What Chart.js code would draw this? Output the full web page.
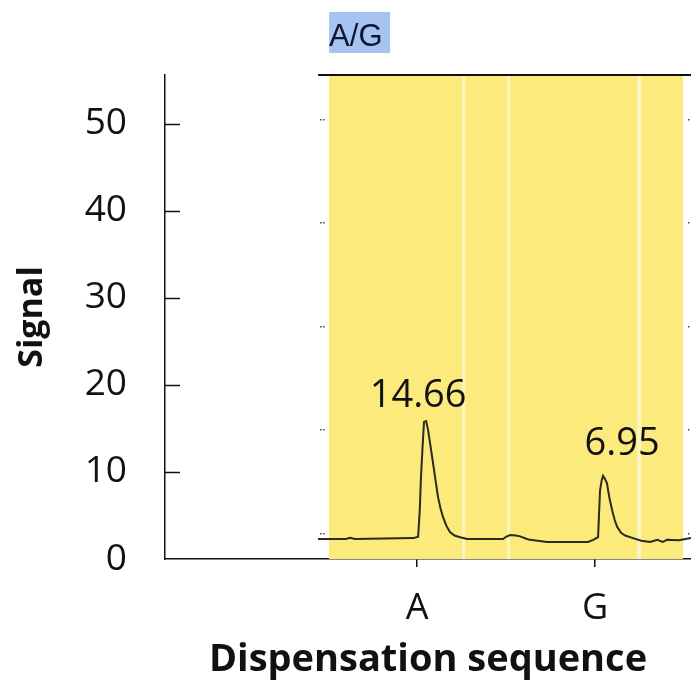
<!DOCTYPE html>
<html>
<head>
<meta charset="utf-8">
<script src="https://cdn.jsdelivr.net/npm/chart.js@4/dist/chart.umd.min.js"></script>
<style>
  html, body { margin: 0; padding: 0; background: #fff; }
  #wrap { width: 691px; height: 683px; }
</style>
</head>
<body>
<div id="wrap"><canvas id="chart" width="691" height="683"></canvas></div>
<script>
// dispensation order and where each nucleotide sits on the x scale
const dispensation = ['A', 'G'];
const dispensationPos = [1, 2];
const yTicks = [0, 10, 20, 30, 40, 50];

// pyrogram trace
const traceX = [0.444, 0.60, 0.624, 0.65, 0.98, 1.006, 1.015, 1.022, 1.030, 1.039, 1.051, 1.062, 1.076, 1.090,
  1.104, 1.118, 1.132, 1.146, 1.165, 1.185, 1.21, 1.242, 1.281, 1.483, 1.50, 1.522, 1.555, 1.579, 1.610, 1.635,
  1.730, 1.96, 1.99, 2.017, 2.023, 2.028, 2.037, 2.045, 2.056, 2.067, 2.080, 2.096, 2.110, 2.124, 2.146, 2.169,
  2.213, 2.26, 2.309, 2.35, 2.38, 2.404, 2.47, 2.539];
const traceY = [2.3, 2.3, 2.45, 2.3, 2.4, 2.55, 5.5, 9.4, 12.5, 15.75, 15.85, 14.8, 12.9, 11.0,
  9.0, 7.1, 5.8, 4.8, 3.8, 3.1, 2.7, 2.5, 2.3, 2.3, 2.55, 2.75, 2.7, 2.6, 2.35, 2.2,
  1.95, 1.95, 2.2, 2.5, 5.5, 7.9, 9.0, 9.55, 9.2, 8.7, 7.1, 5.6, 4.5, 3.7, 3.0, 2.7,
  2.4, 2.1, 1.95, 2.2, 1.95, 2.2, 2.15, 2.4];

// peak values shown above the two peaks
const peakLabels = ['14.66', '6.95'];
const peakIndex = [10, 37];

// yellow regions of the pyrogram and its own little scale marks
const bandStart = [0.506, 1.270, 1.522, 2.258];
const bandEnd = [1.253, 1.506, 2.236, 2.494];
const innerTicks = [3, 14.9, 26.8, 38.7, 50.6];
const snpLabel = 'A/G';

const FONT = "'Open Sans', 'DejaVu Sans', sans-serif";

const pyroPlugin = {
  id: 'pyro',
  beforeDatasetsDraw(chart) {
    const { ctx, chartArea, scales: { x, y } } = chart;
    const top = chartArea.top + 1;
    const h = chartArea.bottom - top;
    ctx.save();
    // pale strip under everything, so the gaps between bands look washed out
    const a0 = x.getPixelForValue(bandStart[0]);
    const a1 = x.getPixelForValue(bandEnd[bandEnd.length - 1]);
    ctx.fillStyle = '#fdf4c2';
    ctx.fillRect(a0, top, a1 - a0, h);
    // yellow bands
    ctx.fillStyle = '#fcea7c';
    for (let i = 0; i < bandStart.length; i++) {
      const x0 = x.getPixelForValue(bandStart[i]);
      const x1 = x.getPixelForValue(bandEnd[i]);
      ctx.fillRect(x0, top, x1 - x0, h);
    }
    // top frame line of the pyrogram
    ctx.strokeStyle = '#111';
    ctx.lineWidth = 2;
    ctx.beginPath();
    ctx.moveTo(x.getPixelForValue(traceX[0]), chartArea.top);
    ctx.lineTo(chartArea.right, chartArea.top);
    ctx.stroke();
    // dotted marks of the inner scale, left and right
    ctx.fillStyle = '#444';
    const xl = x.getPixelForValue(traceX[0]) + 2;
    const xr = chartArea.right - 3;
    innerTicks.forEach(v => {
      const py = Math.round(y.getPixelForValue(v));
      ctx.fillRect(xl, py, 1.5, 1.5);
      ctx.fillRect(xl + 3, py, 1.5, 1.5);
      ctx.fillRect(xr, py, 1.5, 1.5);
    });
    // inside tick marks of the main y axis
    ctx.strokeStyle = '#111';
    ctx.lineWidth = 1.5;
    yTicks.forEach(v => {
      if (v === 0) return;
      const py = Math.round(y.getPixelForValue(v)) + 0.5;
      ctx.beginPath();
      ctx.moveTo(chartArea.left, py);
      ctx.lineTo(chartArea.left + 15, py);
      ctx.stroke();
    });
    ctx.restore();
  },
  afterDatasetsDraw(chart) {
    const { ctx, scales: { x, y } } = chart;
    ctx.save();
    ctx.fillStyle = '#111';
    ctx.font = '38px ' + FONT;
    ctx.textAlign = 'center';
    ctx.textBaseline = 'alphabetic';
    const offs = [[-8, -14], [19, -21]];
    peakIndex.forEach((idx, i) => {
      const px = x.getPixelForValue(traceX[idx]);
      const py = y.getPixelForValue(traceY[idx]);
      ctx.fillText(peakLabels[i], px + offs[i][0], py + offs[i][1]);
    });
    // SNP header with highlight
    const hx = x.getPixelForValue(bandStart[0]);
    ctx.fillStyle = '#a6c3f2';
    ctx.fillRect(hx, 12, 61, 41);
    ctx.fillStyle = '#101630';
    ctx.font = "31px 'Liberation Sans', Arial, sans-serif";
    ctx.textAlign = 'left';
    ctx.fillText(snpLabel, hx, 46);
    ctx.restore();
  }
};

new Chart(document.getElementById('chart'), {
  type: 'line',
  data: {
    datasets: [{
      data: traceX.map((v, i) => ({ x: v, y: traceY[i] })),
      borderColor: '#2a2a1e',
      borderWidth: 2,
      pointRadius: 0,
      tension: 0,
      fill: false
    }]
  },
  options: {
    responsive: false,
    animation: false,
    layout: { padding: { top: 75, right: 0, left: 0, bottom: 0 } },
    plugins: { legend: { display: false }, tooltip: { enabled: false } },
    scales: {
      x: {
        type: 'linear',
        min: -0.416,
        max: 2.539,
        afterBuildTicks: s => { s.ticks = dispensationPos.map(v => ({ value: v })); },
        afterFit: s => { s.height = 124; },
        ticks: {
          autoSkip: false,
          maxRotation: 0,
          padding: 20,
          color: '#111',
          font: { family: FONT, size: 36 },
          callback: v => dispensation[dispensationPos.indexOf(v)]
        },
        grid: { drawOnChartArea: false, tickLength: 8, color: '#111', lineWidth: 1.5 },
        border: { color: '#111', width: 1.5 },
        title: {
          display: true,
          text: 'Dispensation sequence',
          color: '#111',
          font: { family: FONT, size: 38, weight: 'bold' },
          padding: { top: 0, bottom: 0 }
        }
      },
      y: {
        min: 0,
        max: 55.6,
        afterBuildTicks: s => { s.ticks = yTicks.map(v => ({ value: v })); },
        afterFit: s => { s.width = 165; },
        ticks: {
          padding: 30,
          color: '#111',
          font: { family: FONT, size: 37 }
        },
        grid: { display: false },
        border: { color: '#111', width: 1.5 },
        title: {
          display: true,
          text: 'Signal',
          color: '#111',
          font: { family: FONT, size: 34, weight: 'bold' },
          padding: { top: 12, bottom: 0 }
        }
      }
    }
  },
  plugins: [pyroPlugin]
});
</script>
</body>
</html>
